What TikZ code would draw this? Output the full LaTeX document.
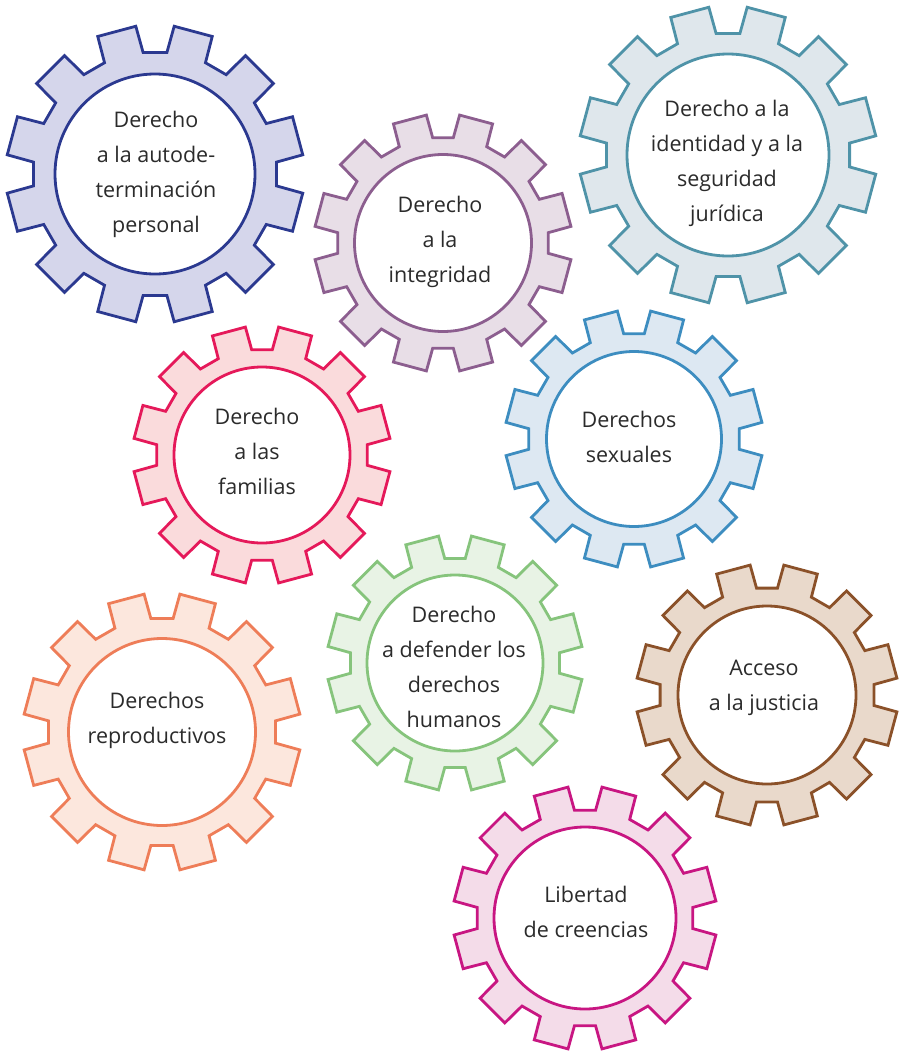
\documentclass[tikz,border=0pt]{standalone}
\usepackage{fontspec}
\setmainfont{Open Sans}
\definecolor{cblue}{HTML}{2B3990}\definecolor{cbluefill}{HTML}{D5D6EB}
\definecolor{cpurple}{HTML}{8C5E8F}\definecolor{cpurplefill}{HTML}{E8DEE7}
\definecolor{cteal}{HTML}{4F93A8}\definecolor{ctealfill}{HTML}{DFE7EC}
\definecolor{cred}{HTML}{E5195A}\definecolor{credfill}{HTML}{FADBDC}
\definecolor{clblue}{HTML}{3D8DC0}\definecolor{clbluefill}{HTML}{DDE8F2}
\definecolor{corange}{HTML}{EE7D58}\definecolor{corangefill}{HTML}{FCE7DD}
\definecolor{cgreen}{HTML}{86C47C}\definecolor{cgreenfill}{HTML}{E8F3E5}
\definecolor{cbrown}{HTML}{8B5129}\definecolor{cbrownfill}{HTML}{E9D9CB}
\definecolor{cmagenta}{HTML}{C81682}\definecolor{cmagentafill}{HTML}{F4DCE9}
\definecolor{ctext}{HTML}{2B2B2B}
\newcommand\gs{\rule[-10.5pt]{0pt}{35pt}}
\tikzset{
  gearline/.style={line width=2.8pt, line join=miter},
  geartext/.style={align=center, text=ctext, inner sep=0pt, font=\fontsize{21.5}{35}\selectfont}
}
% #1 name, #2 x, #3 y, #4 tip radius, #5 inner radius, #6 colour
\newcommand\gearshape[6]{%
  \coordinate (#1) at (#2,#3);
  \begin{scope}[shift={(#1)}]
    \filldraw[gearline, draw=#6, fill=#6fill]
      ({15-9.4}:{0.82*#4})
      \foreach \k in {0,...,11}{
        -- ({15+30*\k-9.4}:{0.82*#4})
        -- ({15+30*\k-7.6}:{#4})
        -- ({15+30*\k+7.6}:{#4})
        -- ({15+30*\k+9.4}:{0.82*#4})
      } -- cycle;
    \filldraw[gearline, draw=#6, fill=white] (0,0) circle[radius=#5];
  \end{scope}}
\begin{document}
\begin{tikzpicture}[x=1pt,y=-1pt]
  \useasboundingbox (0,0) rectangle (900,1052);
  \gearshape{g1}{155}{174}{149}{100}{cblue}
  \gearshape{g2}{443}{243}{129}{88.5}{cpurple}
  \gearshape{g3}{728}{155}{149}{101}{cteal}
  \gearshape{g4}{262}{455}{129}{88}{cred}
  \gearshape{g5}{634}{439}{129}{87.5}{clblue}
  \gearshape{g6}{162}{732}{139}{93.5}{corange}
  \gearshape{g7}{455}{663}{128}{88}{cgreen}
  \gearshape{g8}{767}{695}{131}{89}{cbrown}
  \gearshape{g9}{585}{918}{132}{91}{cmagenta}
  \node[geartext] (t1) at (156,173) {\gs Derecho\\\gs a la autode-\\\gs terminación\\\gs personal};
  \node[geartext] (t2) at (440,240) {\gs Derecho\\\gs a la\\\gs integridad};
  \node[geartext] (t3) at (727,162) {\gs Derecho a la\\\gs identidad y a la\\\gs seguridad\\\gs jurídica};
  \node[geartext] (t4) at (257,452) {\gs Derecho\\\gs a las\\\gs familias};
  \node[geartext] (t5) at (629,438) {\gs Derechos\\\gs sexuales};
  \node[geartext] (t6) at (157,718.5) {\gs Derechos\\\gs reproductivos};
  \node[geartext] (t7) at (454,668) {\gs Derecho\\\gs a defender los\\\gs derechos\\\gs humanos};
  \node[geartext] (t8) at (764,685.5) {\gs Acceso\\\gs a la justicia};
  \node[geartext] (t9) at (586,913) {\gs Libertad\\\gs de creencias};
\end{tikzpicture}
\end{document}
